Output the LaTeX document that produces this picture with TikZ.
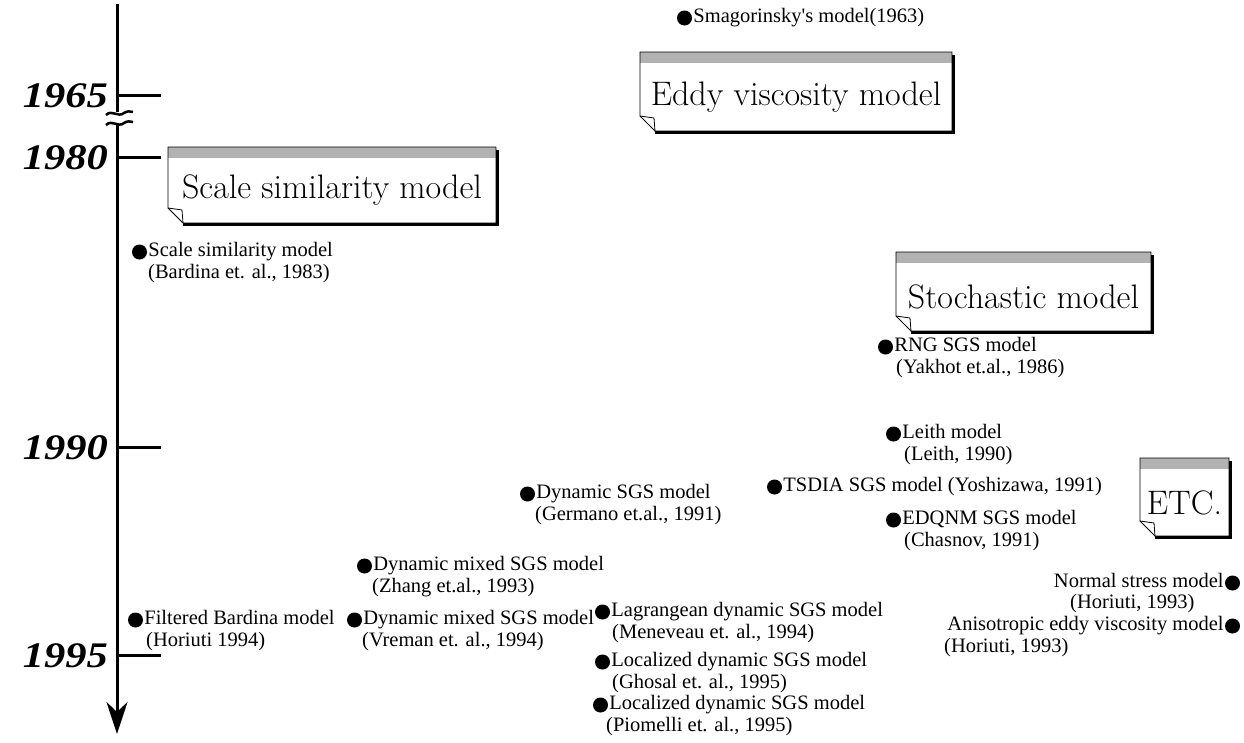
\documentclass[tikz,border=0pt]{standalone}
\usepackage{fontspec}
\newfontfamily\lib{Liberation Serif}
\usetikzlibrary{arrows.meta,calc}
\tikzset{
  dot/.style={circle,fill=black,inner sep=0pt,minimum size=15pt},
  lbl/.style={font=\lib\fontsize{20.5}{22}\selectfont, inner sep=0pt, anchor=west, text height=13pt, text depth=4pt},
  yearlbl/.style={font=\lib\bfseries\itshape\fontsize{36}{36}\selectfont, anchor=east, inner sep=0pt},
  bannertext/.style={font=\fontsize{34}{34}\selectfont\addfontfeatures{FakeBold=0.5}, inner sep=0pt},
  axisline/.style={line width=3pt},
  ticklne/.style={line width=3pt},
  thinedge/.style={line width=0.8pt},
  shadowedge/.style={line width=3.5pt},
  strip/.style={fill=gray!60},
}
% entry with bullet on the left: name, bullet-left x, y, text
\newcommand\entA[4]{%
  \node[dot] (#1) at (#2+7.5,#3) {};
  \node[lbl] (#1-a) at ([xshift=1pt]#1.east) {#4};
}
% second line: name, x, y, text
\newcommand\entB[4]{%
  \node[lbl] (#1) at (#2,#3) {#4};
}
% entry with bullet on the right: name, bullet-right x, y, text
\newcommand\entR[4]{%
  \node[dot] (#1) at (#2-7.5,#3) {};
  \node[lbl,anchor=east] (#1-a) at ([xshift=-1pt]#1.west) {#4};
}
% banner box: name, L, T, R, B, text
\newcommand\banner[6]{%
  \fill[white] (#2,#3) -- (#4,#3) -- (#4,#5) -- (#2+15,#5) -- (#2,#5-15) -- cycle;
  \fill[strip] (#2,#3) rectangle (#4,#3+11);
  \draw[thinedge] (#2,#3) -- (#4,#3) -- (#4,#5) -- (#2+15,#5) -- (#2,#5-15) -- cycle;
  \draw[thinedge] (#2,#5-15) -- (#2+14,#5-13) -- (#2+15,#5);
  \draw[shadowedge] (#4+1.5,#3+3) -- (#4+1.5,#5+1.5) -- (#2+15,#5+1.5);
  \node[bannertext] (#1) at ({(#2+#4)/2},{(#3+11+#5)/2}) {#6};
}
\begin{document}
\begin{tikzpicture}[x=1pt,y=-1pt]
\path[use as bounding box] (0,0) rectangle (1244,742);

% time axis
\coordinate (axtop) at (117,4);
\coordinate (axbot) at (117,734);
\draw[axisline,-{Stealth[length=32pt,width=21pt,inset=10pt]}] (axtop) -- (axbot);

% axis break
\fill[white] (104,112) rectangle (134,124);
\draw[line width=2.5pt] (106,115) .. controls (112,109) and (118,118) .. (124,113) .. controls (127,111) and (130,111) .. (133,112);
\draw[line width=2.5pt] (106,125) .. controls (112,119) and (118,128) .. (124,123) .. controls (127,121) and (130,121) .. (133,122);

% ticks and years
\foreach \nm/\yy/\yr in {t65/95/1965, t80/157/1980, t90/447/1990, t95/655/1995}{
  \coordinate (\nm-a) at (117,\yy);
  \coordinate (\nm-b) at (161,\yy);
  \draw[ticklne] (\nm-a) -- (\nm-b);
  \node[yearlbl] (\nm-y) at (108,\yy+1) {\scalebox{1.18}[1]{\yr}};
}

% banners
\banner{eddy}{640}{52}{952}{131}{Eddy viscosity model}
\banner{scale}{168}{147}{496}{223}{Scale similarity model}
\banner{stoch}{896}{252}{1151}{331}{Stochastic model}
\banner{etc}{1140}{458}{1229}{536}{ETC.}

% entries
\entA{smag}{677}{18}{Smagorinsky's model(1963)}
\entA{bard}{132}{252}{Scale similarity model}
\entB{bard-b}{148}{274}{(Bardina et. al., 1983)}
\entA{rng}{878}{347}{RNG SGS model}
\entB{rng-b}{896}{369}{(Yakhot et.al., 1986)}
\entA{leith}{886}{434}{Leith model}
\entB{leith-b}{904}{456}{(Leith, 1990)}
\entA{tsdia}{767}{487}{TSDIA SGS model (Yoshizawa, 1991)}
\entA{germ}{520}{494}{Dynamic SGS model}
\entB{germ-b}{535}{516}{(Germano et.al., 1991)}
\entA{edq}{886}{520}{EDQNM SGS model}
\entB{edq-b}{904}{542}{(Chasnov, 1991)}
\entA{zhang}{357}{566}{Dynamic mixed SGS model}
\entB{zhang-b}{372}{588}{(Zhang et.al., 1993)}
\entR{norm}{1240}{583}{Normal stress model}
\entB{norm-b}{1070}{604}{(Horiuti, 1993)}
\entA{filt}{128}{620}{Filtered Bardina model}
\entB{filt-b}{146}{642}{(Horiuti 1994)}
\entA{vrem}{347}{620}{Dynamic mixed SGS model}
\entB{vrem-b}{362}{642}{(Vreman et. al., 1994)}
\entA{lagr}{595}{612}{Lagrangean dynamic SGS model}
\entB{lagr-b}{612}{634}{(Meneveau et. al., 1994)}
\entR{aniso}{1240}{626}{Anisotropic eddy viscosity model}
\entB{aniso-b}{944}{648}{(Horiuti, 1993)}
\entA{ghos}{595}{662}{Localized dynamic SGS model}
\entB{ghos-b}{612}{684}{(Ghosal et. al., 1995)}
\entA{piom}{593}{705}{Localized dynamic SGS model}
\entB{piom-b}{606}{727}{(Piomelli et. al., 1995)}
\end{tikzpicture}
\end{document}
